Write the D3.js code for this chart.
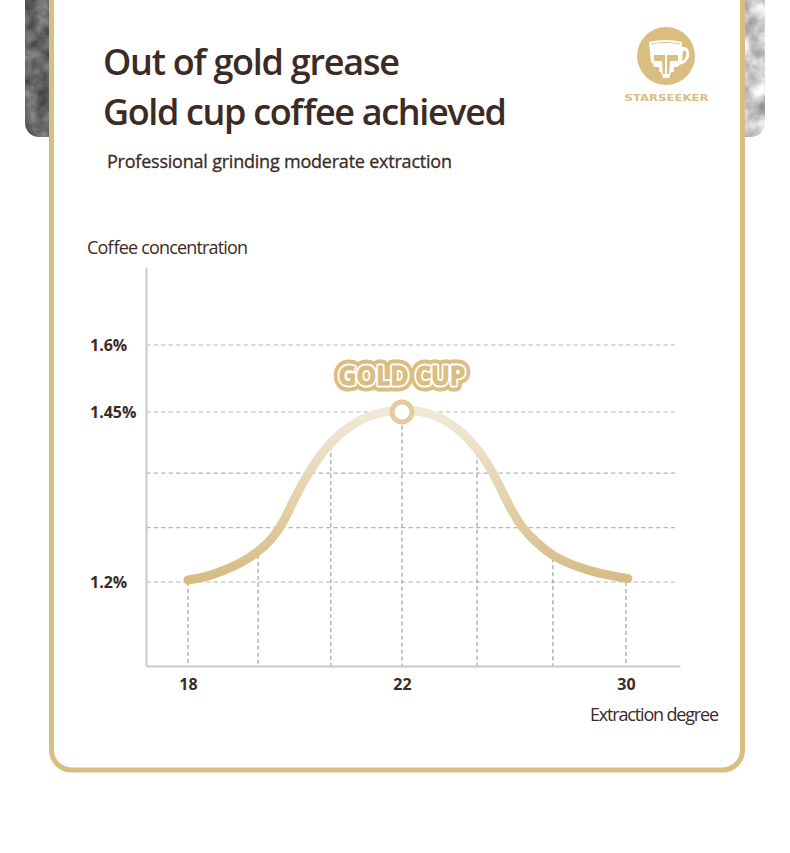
<!DOCTYPE html>
<html>
<head>
<meta charset="utf-8">
<script src="https://cdnjs.cloudflare.com/ajax/libs/d3/7.8.5/d3.min.js"></script>
<style>
  html, body { margin: 0; padding: 0; background: #fff; }
  svg { display: block; }
  text { font-family: "Open Sans", "Noto Sans", sans-serif; }
</style>
</head>
<body>
<div id="chart"></div>
<script>
// values
const curveDegree = [18, 18.32, 18.65, 18.99, 19.31, 19.57, 19.78, 19.96, 20.19, 20.43, 20.67, 21.03, 21.5, 22,
  22.7, 23.36, 24.07, 24.68, 25.14, 25.5, 25.86, 26.29, 26.82, 27.39, 28.07, 28.82, 29.5, 30.07];
const curveConc = [1.203, 1.207, 1.216, 1.228, 1.244, 1.263, 1.287, 1.318, 1.353, 1.382, 1.406, 1.431, 1.449, 1.455,
  1.452, 1.443, 1.424, 1.397, 1.369, 1.34, 1.309, 1.279, 1.257, 1.238, 1.225, 1.215, 1.209, 1.205];
const yTicks = [1.2, 1.45, 1.6];
const yTickLabels = ["1.2%", "1.45%", "1.6%"];
const xTicks = [18, 22, 30];
const hGrid = [1.2, 1.28, 1.36, 1.45, 1.6];
const vGrid = [18, 19.31, 20.67, 22, 24.68, 27.39, 30];
const vGridTop = [1.2, 1.24, 1.4, 1.43, 1.39, 1.235, 1.2];

const width = 790, height = 853;
const gold = "#dabd80";
const dark = "#3c2b25";

// the axes are not evenly spaced in the picture, so both scales are piecewise
const x = d3.scaleLinear().domain([17.215, 18, 22, 30, 31.93]).range([146, 188, 402, 626, 680]);
const y = d3.scaleLinear().domain([1.0765, 1.2, 1.45, 1.6, 1.775]).range([666, 582, 412, 345, 267]);

const svg = d3.select("#chart").append("svg").attr("width", width).attr("height", height);
const defs = svg.append("defs");

// stone textures behind the card
const darkStone = defs.append("filter").attr("id", "darkStone").attr("x", 0).attr("y", 0).attr("width", 1).attr("height", 1)
  .attr("color-interpolation-filters", "sRGB");
darkStone.append("feTurbulence").attr("type", "fractalNoise").attr("baseFrequency", 0.08).attr("numOctaves", 4).attr("seed", 4);
darkStone.append("feColorMatrix").attr("values", "0.4 0 0 0 0.2  0.4 0 0 0 0.2  0.4 0 0 0 0.2  0 0 0 0 1");
const marble = defs.append("filter").attr("id", "marble").attr("x", 0).attr("y", 0).attr("width", 1).attr("height", 1)
  .attr("color-interpolation-filters", "sRGB");
marble.append("feTurbulence").attr("type", "fractalNoise").attr("baseFrequency", 0.05).attr("numOctaves", 4).attr("seed", 9);
marble.append("feColorMatrix").attr("values", "0.7 0 0 0 0.47  0.7 0 0 0 0.47  0.7 0 0 0 0.47  0 0 0 0 1");

const leftClip = defs.append("clipPath").attr("id", "leftClip");
leftClip.append("rect").attr("x", 25).attr("y", -30).attr("width", 80).attr("height", 167).attr("rx", 14);
const rightClip = defs.append("clipPath").attr("id", "rightClip");
rightClip.append("rect").attr("x", 690).attr("y", -30).attr("width", 75).attr("height", 167).attr("rx", 14);

svg.append("g").attr("clip-path", "url(#leftClip)")
  .append("rect").attr("x", 25).attr("y", 0).attr("width", 80).attr("height", 137)
  .attr("filter", "url(#darkStone)");
svg.append("g").attr("clip-path", "url(#rightClip)")
  .append("rect").attr("x", 690).attr("y", 0).attr("width", 75).attr("height", 137)
  .attr("filter", "url(#marble)");

// card
svg.append("rect")
  .attr("x", 51.5).attr("y", -40).attr("width", 691).attr("height", 810).attr("rx", 20)
  .attr("fill", "#fff").attr("stroke", gold).attr("stroke-width", 5);

// headings
function label(txt, px, py, size, weight, len) {
  return svg.append("text").attr("x", px).attr("y", py)
    .attr("font-size", size).attr("font-weight", weight).attr("fill", dark)
    .attr("textLength", len).attr("lengthAdjust", "spacing").text(txt);
}
label("Out of gold grease", 103, 75, 36, 600, 297);
label("Gold cup coffee achieved", 103, 125, 36, 600, 404);
label("Professional grinding moderate extraction", 107, 168, 18, 400, 345)
  .attr("stroke", dark).attr("stroke-width", 0.3);
label("Coffee concentration", 87, 254, 18, 400, 161);
label("Extraction degree", 590, 721, 18, 400, 129);

// logo
const logo = svg.append("g").attr("transform", "translate(666,56)");
logo.append("circle").attr("r", 29).attr("fill", gold);
logo.append("path").attr("fill", "#fff")
  .attr("d", "M-17,-14 Q0,-18 16,-14 L16,-9 Q24,-10 23,0 Q22,7 13,9 L12,11 L8,11 L8,16 L5,16 L3,22 L-3,22 L-5,16 L-7,16 L-7,11 L-12,11 L-13,8 L-15,6 Z");
logo.append("path").attr("fill", "none").attr("stroke", gold).attr("stroke-width", 1.2)
  .attr("d", "M-15,-12 Q0,-15 14,-12");
logo.append("path").attr("fill", gold)
  .attr("d", "M-12,-1 L-1,-1 L-1,18 L-3,18 L-4,5 L-12,5 Z M12,-1 L1,-1 L1,18 L3,18 L4,5 L12,5 Z");
logo.append("path").attr("fill", gold).attr("d", "M17,-5 Q21,-6 20,0 Q19,4 16,5 Z");
svg.append("text").attr("x", 666.5).attr("y", 100.5).attr("text-anchor", "middle")
  .style("font-family", "'DejaVu Sans'").attr("font-size", 8.5).attr("font-weight", 700)
  .attr("fill", gold).attr("textLength", 84).attr("lengthAdjust", "spacingAndGlyphs").text("STARSEEKER");

// grid
svg.append("g").selectAll("line").data(hGrid).join("line")
  .attr("x1", x.range()[0]).attr("x2", 675)
  .attr("y1", d => y(d)).attr("y2", d => y(d))
  .attr("stroke", "#b6b6b6").attr("stroke-width", 1.2).attr("stroke-dasharray", "4.5 3");
svg.append("g").selectAll("line").data(vGrid).join("line")
  .attr("x1", d => x(d)).attr("x2", d => x(d))
  .attr("y1", (d, i) => y(vGridTop[i])).attr("y2", y.range()[0])
  .attr("stroke", "#8c8c8c").attr("stroke-width", 1).attr("stroke-dasharray", "4 3");

// axes
const yAxis = svg.append("g").attr("transform", "translate(146,0)")
  .call(d3.axisLeft(y).tickValues(yTicks).tickFormat((d, i) => yTickLabels[i]).tickSize(0));
const xAxis = svg.append("g").attr("transform", "translate(0,666)")
  .call(d3.axisBottom(x).tickValues(xTicks).tickFormat(d3.format("d")).tickSize(0));
[yAxis, xAxis].forEach(a => {
  a.select(".domain").attr("stroke", "#c9c9c9").attr("stroke-width", 2);
  a.selectAll("text").style("font-family", "'Open Sans'").attr("font-size", 16)
    .attr("font-weight", 700).attr("fill", dark);
});
yAxis.selectAll("text").attr("text-anchor", "start").attr("x", -56);
xAxis.selectAll("text").attr("y", 13);

// curve
const grad = defs.append("linearGradient").attr("id", "curveFade")
  .attr("gradientUnits", "userSpaceOnUse")
  .attr("x1", 0).attr("x2", 0).attr("y1", y(1.45)).attr("y2", y(1.2));
grad.append("stop").attr("offset", 0).attr("stop-color", "#f1e9d8");
grad.append("stop").attr("offset", 0.55).attr("stop-color", "#e3d0a7");
grad.append("stop").attr("offset", 1).attr("stop-color", "#d6bc84");

const line = d3.line().x(d => x(d[0])).y(d => y(d[1])).curve(d3.curveBasis);
svg.append("path").datum(curveDegree.map((d, i) => [d, curveConc[i]]))
  .attr("d", line).attr("fill", "none").attr("stroke", "url(#curveFade)")
  .attr("stroke-width", 9).attr("stroke-linecap", "round");

// peak marker
svg.append("circle").attr("cx", x(22)).attr("cy", y(1.45)).attr("r", 10)
  .attr("fill", "#fff").attr("stroke", "#e2cc9d").attr("stroke-width", 5);

// gold cup badge
[[gold, 13], ["#fff", 5], [gold, 1]].forEach(s => {
  svg.append("text").attr("x", 402).attr("y", 385).attr("text-anchor", "middle")
    .attr("font-size", 27).attr("font-weight", 700)
    .attr("textLength", 127).attr("lengthAdjust", "spacingAndGlyphs")
    .attr("fill", gold).attr("stroke", s[0]).attr("stroke-width", s[1])
    .attr("stroke-linejoin", "round").text("GOLD CUP");
});
</script>
</body>
</html>
